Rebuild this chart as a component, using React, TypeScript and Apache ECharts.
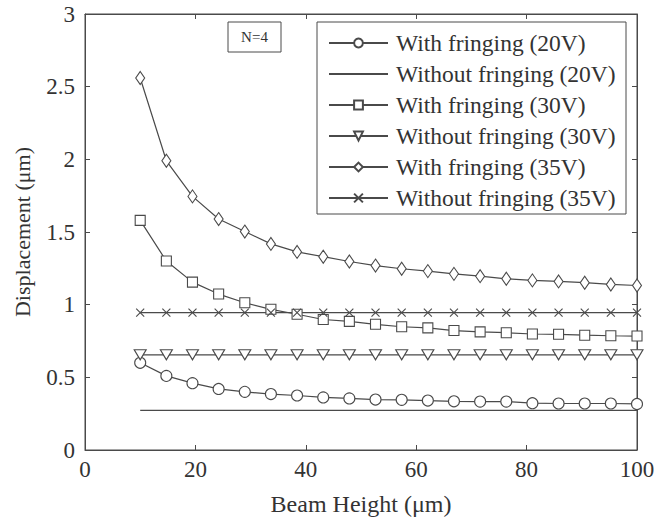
import React, { useEffect, useRef } from "react";
import * as echarts from "echarts";

const beamHeight = [10, 14.74, 19.47, 24.21, 28.95, 33.68, 38.42, 43.16, 47.89, 52.63, 57.37, 62.11, 66.84, 71.58, 76.32, 81.05, 85.79, 90.53, 95.26, 100];

const withFringing20 = [0.6, 0.51, 0.46, 0.42, 0.4, 0.385, 0.375, 0.362, 0.355, 0.347, 0.345, 0.34, 0.335, 0.333, 0.333, 0.322, 0.32, 0.32, 0.32, 0.317];
const withoutFringing20 = [0.272, 0.272, 0.272, 0.272, 0.272, 0.272, 0.272, 0.272, 0.272, 0.272, 0.272, 0.272, 0.272, 0.272, 0.272, 0.272, 0.272, 0.272, 0.272, 0.272];
const withFringing30 = [1.58, 1.3, 1.155, 1.073, 1.013, 0.968, 0.934, 0.898, 0.885, 0.865, 0.848, 0.84, 0.822, 0.813, 0.807, 0.798, 0.796, 0.79, 0.786, 0.784];
const withoutFringing30 = [0.655, 0.655, 0.655, 0.655, 0.655, 0.655, 0.655, 0.655, 0.655, 0.655, 0.655, 0.655, 0.655, 0.655, 0.655, 0.655, 0.655, 0.655, 0.655, 0.655];
const withFringing35 = [2.56, 1.99, 1.745, 1.589, 1.503, 1.418, 1.363, 1.33, 1.297, 1.269, 1.247, 1.231, 1.212, 1.196, 1.178, 1.167, 1.16, 1.151, 1.139, 1.132];
const withoutFringing35 = [0.945, 0.945, 0.945, 0.945, 0.945, 0.945, 0.945, 0.945, 0.945, 0.945, 0.945, 0.945, 0.945, 0.945, 0.945, 0.945, 0.945, 0.945, 0.945, 0.945];

const seriesNames = [
  "With fringing (20V)",
  "Without fringing (20V)",
  "With fringing (30V)",
  "Without fringing (30V)",
  "With fringing (35V)",
  "Without fringing (35V)",
];

const xTicks = { min: 0, max: 100, interval: 20 };
const yTicks = { min: 0, max: 3, interval: 0.5 };

const INK = "#4a4a4a";
const FONT = "Liberation Serif";

function pairs(ys: number[]) {
  return ys.map((y, i) => [beamHeight[i], y]);
}

export default function App() {
  const ref = useRef<HTMLDivElement>(null);
  useEffect(() => {
    if (!ref.current) return;
    const chart = echarts.init(ref.current, undefined, { renderer: "svg" });
    const lineStyle = { color: INK, width: 1.2 };
    const itemStyle = { color: "#fff", borderColor: INK, borderWidth: 1.1 };
    const base = {
      type: "line" as const,
      xAxisIndex: 0,
      yAxisIndex: 0,
      lineStyle,
      itemStyle,
      showAllSymbol: true,
      emphasis: { disabled: true },
    };
    const option: any = {
      animation: false,
      backgroundColor: "#fff",
      grid: { left: 85, right: 32, top: 14, bottom: 69, show: true, borderColor: INK, borderWidth: 1, backgroundColor: "transparent" },
      legend: {
        orient: "vertical",
        left: 328,
        top: 31,
        padding: 0,
        itemWidth: 59,
        itemHeight: 11,
        itemGap: 7,
        data: seriesNames,
        textStyle: { fontFamily: FONT, fontSize: 23.5, color: "#333", lineHeight: 24, padding: [0, 0, 0, 3] },
        selectedMode: false,
      },
      xAxis: [
        {
          type: "value",
          min: xTicks.min,
          max: xTicks.max,
          interval: xTicks.interval,
          name: "Beam Height (μm)",
          nameLocation: "middle",
          nameGap: 42,
          nameTextStyle: { fontFamily: FONT, fontSize: 24, color: "#333" },
          axisLine: { show: true, onZero: false, lineStyle: { color: INK } },
          axisTick: { show: true, inside: true, length: 5, lineStyle: { color: INK } },
          axisLabel: { fontFamily: FONT, fontSize: 23, color: "#333", margin: 8 },
          splitLine: { show: false },
        },
        {
          type: "value",
          position: "top",
          min: xTicks.min,
          max: xTicks.max,
          interval: xTicks.interval,
          axisLine: { show: true, onZero: false, lineStyle: { color: INK } },
          axisTick: { show: true, inside: true, length: 5, lineStyle: { color: INK } },
          axisLabel: { show: false },
          splitLine: { show: false },
        },
      ],
      yAxis: [
        {
          type: "value",
          min: yTicks.min,
          max: yTicks.max,
          interval: yTicks.interval,
          name: "Displacement (μm)",
          nameLocation: "middle",
          nameGap: 52,
          nameTextStyle: { fontFamily: FONT, fontSize: 22, color: "#333" },
          axisLine: { show: true, onZero: false, lineStyle: { color: INK } },
          axisTick: { show: true, inside: true, length: 5, lineStyle: { color: INK } },
          axisLabel: { fontFamily: FONT, fontSize: 23, color: "#333", margin: 10 },
          splitLine: { show: false },
        },
        {
          type: "value",
          position: "right",
          min: yTicks.min,
          max: yTicks.max,
          interval: yTicks.interval,
          axisLine: { show: true, onZero: false, lineStyle: { color: INK } },
          axisTick: { show: true, inside: true, length: 5, lineStyle: { color: INK } },
          axisLabel: { show: false },
          splitLine: { show: false },
        },
      ],
      graphic: [
        {
          type: "rect",
          shape: { x: 317, y: 22, width: 309, height: 192 },
          style: { fill: "#fff", stroke: INK, lineWidth: 1 },
        },
        {
          type: "rect",
          shape: { x: 228, y: 22, width: 53, height: 30 },
          style: { fill: "#fff", stroke: INK, lineWidth: 1 },
        },
        {
          type: "text",
          x: 254.5,
          y: 37,
          style: { text: "N=4", fontFamily: FONT, fontSize: 15, fill: "#333", align: "center", verticalAlign: "middle" },
        },
      ],
      series: [
        { ...base, name: seriesNames[0], data: pairs(withFringing20), symbol: "circle", symbolSize: 11 },
        {
          ...base,
          name: seriesNames[1],
          data: pairs(withoutFringing20),
          symbol: "circle",
          showSymbol: false,
          itemStyle: { color: "rgba(0,0,0,0)", borderColor: "rgba(0,0,0,0)", borderWidth: 0 },
        },
        { ...base, name: seriesNames[2], data: pairs(withFringing30), symbol: "rect", symbolSize: 10 },
        { ...base, name: seriesNames[3], data: pairs(withoutFringing30), symbol: "path://M0,0L12,0L6,10Z", symbolSize: [12, 10] },
        { ...base, name: seriesNames[4], data: pairs(withFringing35), symbol: "diamond", symbolSize: [9, 13] },
        { ...base, name: seriesNames[5], data: pairs(withoutFringing35), symbol: "path://M0,0L10,10M10,0L0,10", symbolSize: 8 },
      ],
    };
    chart.setOption(option);
    return () => chart.dispose();
  }, []);
  return <div ref={ref} style={{ position: "fixed", left: 0, top: 0, width: 669, height: 521 }} />;
}
